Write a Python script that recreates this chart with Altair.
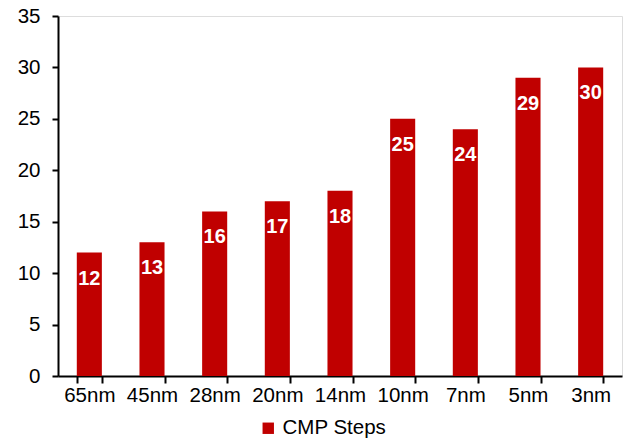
import altair as alt
import pandas as pd

nodes = ["65nm", "45nm", "28nm", "20nm", "14nm", "10nm", "7nm", "5nm", "3nm"]
steps = [12, 13, 16, 17, 18, 25, 24, 29, 30]
series = ["CMP Steps"] * len(nodes)

df = pd.DataFrame({"node": nodes, "steps": steps, "series": series})

FONT = "Liberation Sans"

base = alt.Chart(df).encode(
    x=alt.X("node:N", sort=nodes, title=None,
            scale=alt.Scale(paddingInner=0.6, paddingOuter=0.3),
            axis=alt.Axis(labelAngle=0, tickBand="extent", tickSize=7, tickWidth=2,
                          domainWidth=2, domainColor="black", tickColor="black",
                          labelFont=FONT, labelFontSize=20.5, labelColor="black",
                          labelPadding=2, grid=False)),
    y=alt.Y("steps:Q", title=None,
            scale=alt.Scale(domain=[0, 35], nice=False),
            axis=alt.Axis(values=[0, 5, 10, 15, 20, 25, 30, 35], tickSize=6, tickWidth=2,
                          domainWidth=2, domainColor="black", tickColor="black",
                          labelFont=FONT, labelFontSize=20.5, labelColor="black",
                          labelPadding=12, grid=False)),
)

bars = base.mark_bar(color="#C00000").encode(
    color=alt.Color("series:N", scale=alt.Scale(range=["#C00000"]),
                    legend=alt.Legend(title=None, orient="none", legendX=200, legendY=402,
                                      symbolType="square", symbolSize=130,
                                      labelFont=FONT, labelFontSize=20.5, labelColor="black",
                                      symbolOpacity=1))
)

labels = base.mark_text(color="white", font=FONT, fontSize=20, fontWeight="bold",
                        baseline="middle", dy=26).encode(text="steps:Q")

chart = (bars + labels).properties(
    width=564, height=360,
    autosize=alt.AutoSizeParams(type="none"),
    padding={"left": 58, "top": 16, "right": 10, "bottom": 67},
).configure_view(stroke=None).configure(background="white")

chart.save("out.html", embed_options={"renderer": "svg", "actions": False})
